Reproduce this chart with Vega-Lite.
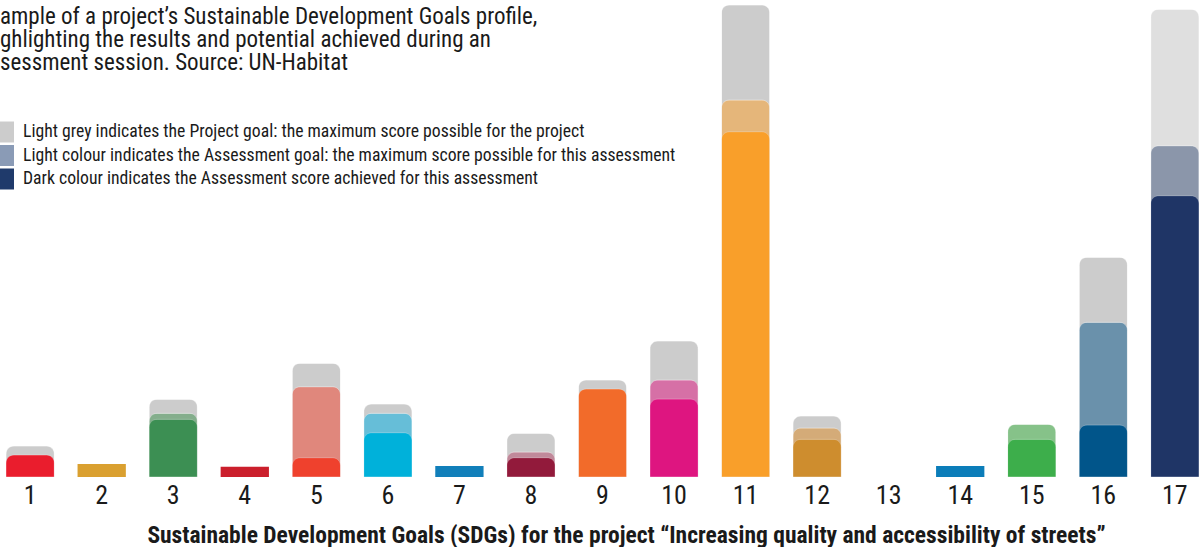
{
  "$schema": "https://vega.github.io/schema/vega-lite/v6.json",
  "width": 1200,
  "height": 477,
  "autosize": "none",
  "padding": {"left": 0, "top": 0, "right": 0, "bottom": 70},
  "background": "white",
  "config": {
    "view": {"stroke": null},
    "font": "Roboto Condensed, Liberation Sans Narrow, Arial Narrow, Roboto, sans-serif"
  },
  "title": {
    "text": ["ample of a project’s Sustainable Development Goals profile,", "ghlighting the results and potential achieved during an", "sessment session. Source: UN-Habitat"],
    "anchor": "start",
    "frame": "group",
    "baseline": "top",
    "offset": 0,
    "dy": 75,
    "fontSize": 23,
    "fontWeight": "normal",
    "lineHeight": 23,
    "color": "#1a1a1a",
    "font": "Roboto Condensed, Liberation Sans Narrow, Arial Narrow, Roboto, sans-serif"
  },
  "data": {
    "values": [
      {"sdg": 1, "project": 31, "assessment": null, "score": 22},
      {"sdg": 2, "project": null, "assessment": null, "score": 13},
      {"sdg": 3, "project": 77.7, "assessment": 63.7, "score": 57.7},
      {"sdg": 4, "project": null, "assessment": null, "score": 10.3},
      {"sdg": 5, "project": 113.7, "assessment": 90.3, "score": 19.3},
      {"sdg": 6, "project": 73, "assessment": 63.7, "score": 44.3},
      {"sdg": 7, "project": null, "assessment": null, "score": 11},
      {"sdg": 8, "project": 43.7, "assessment": 25, "score": 19.3},
      {"sdg": 9, "project": 97, "assessment": null, "score": 88},
      {"sdg": 10, "project": 136, "assessment": 97, "score": 78},
      {"sdg": 11, "project": 472, "assessment": 377, "score": 345.3},
      {"sdg": 12, "project": 61, "assessment": 49, "score": 37.7},
      {"sdg": 13, "project": null, "assessment": null, "score": null},
      {"sdg": 14, "project": null, "assessment": null, "score": 11},
      {"sdg": 15, "project": null, "assessment": 52.7, "score": 37.7},
      {"sdg": 16, "project": 219.7, "assessment": 154.7, "score": 52},
      {"sdg": 17, "project": 467.7, "assessment": 331.3, "score": 281.3}
    ]
  },
  "encoding": {
    "x": {
      "field": "sdg",
      "type": "ordinal",
      "scale": {"domain": [1,2,3,4,5,6,7,8,9,10,11,12,13,14,15,16,17], "range": [0, 1205], "paddingInner": 0.325, "paddingOuter": 0.084},
      "axis": {
        "title": "Sustainable Development Goals (SDGs) for the project “Increasing quality and accessibility of streets”",
        "labelAngle": 0,
        "domain": false,
        "ticks": false,
        "grid": false,
        "labelFontSize": 26,
        "labelPadding": 5,
        "labelColor": "#1a1a1a",
        "labelFont": "Roboto Condensed, Liberation Sans Narrow, Arial Narrow, Roboto, sans-serif",
        "titleFont": "Roboto Condensed, Liberation Sans Narrow, Arial Narrow, Roboto, sans-serif",
        "titleFontWeight": "bold",
        "titleFontSize": 23.5,
        "titleColor": "#1a1a1a",
        "titleX": 626,
        "titleY": 65.5,
        "titleBaseline": "alphabetic",
        "titleLimit": 2000
      }
    }
  },
  "layer": [
    {
      "mark": {"type": "bar", "cornerRadiusEnd": 8, "stroke": "white", "strokeWidth": 1, "strokeOpacity": 0.35},
      "encoding": {
        "y": {"field": "project", "type": "quantitative", "scale": {"domain": [0, 477], "nice": false}, "axis": null},
        "fill": {"field": "sdg", "type": "nominal", "legend": null,
          "scale": {"domain": [1,2,3,4,5,6,7,8,9,10,11,12,13,14,15,16,17], "range": ["#CCCCCC","#CCCCCC","#CCCCCC","#CCCCCC","#CCCCCC","#CCCCCC","#CCCCCC","#CCCCCC","#CCCCCC","#CCCCCC","#CCCCCC","#CCCCCC","#CCCCCC","#CCCCCC","#CCCCCC","#CCCCCC","#DFDFDF"]}}
      }
    },
    {
      "mark": {"type": "bar", "cornerRadiusEnd": 8, "stroke": "white", "strokeWidth": 1, "strokeOpacity": 0.35},
      "encoding": {
        "y": {"field": "assessment", "type": "quantitative", "axis": null},
        "fill": {"field": "sdg", "type": "nominal", "legend": null,
          "scale": {"domain": [1,2,3,4,5,6,7,8,9,10,11,12,13,14,15,16,17], "range": ["#EA1D2D","#DAA030","#84AE8C","#CB1F2C","#E0877C","#66BED8","#117FBA","#C0899A","#F26B2A","#D670A6","#E5B67A","#D4AB78","#999999","#0B7DB9","#86C289","#6A91AB","#8B96AA"]}}
      }
    },
    {
      "transform": [{"filter": "indexof([2, 4, 7, 14], datum.sdg) < 0"}],
      "mark": {"type": "bar", "cornerRadiusEnd": 8, "stroke": "white", "strokeWidth": 1, "strokeOpacity": 0.2},
      "encoding": {
        "y": {"field": "score", "type": "quantitative", "axis": null},
        "fill": {"field": "sdg", "type": "nominal", "legend": null,
          "scale": {"domain": [1,2,3,4,5,6,7,8,9,10,11,12,13,14,15,16,17], "range": ["#EA1D2D","#DAA030","#3C8F53","#CB1F2C","#EF412D","#00B1DA","#117FBA","#921A3B","#F26B2A","#DE1580","#F99F2A","#CE8D2E","#3F7E44","#0B7DB9","#3DAE4B","#01558A","#1F3566"]}}
      }
    },
    {
      "transform": [{"filter": "indexof([2, 4, 7, 14], datum.sdg) >= 0"}],
      "mark": {"type": "bar"},
      "encoding": {
        "y": {"field": "score", "type": "quantitative", "axis": null},
        "fill": {"field": "sdg", "type": "nominal", "legend": null,
          "scale": {"domain": [1,2,3,4,5,6,7,8,9,10,11,12,13,14,15,16,17], "range": ["#EA1D2D","#DAA030","#3C8F53","#CB1F2C","#EF412D","#00B1DA","#117FBA","#921A3B","#F26B2A","#DE1580","#F99F2A","#CE8D2E","#3F7E44","#0B7DB9","#3DAE4B","#01558A","#1F3566"]}}
      }
    },
    {
      "data": {
        "values": [
          {"key": "Light grey indicates the Project goal: the maximum score possible for the project"},
          {"key": "Light colour indicates the Assessment goal: the maximum score possible for this assessment"},
          {"key": "Dark colour indicates the Assessment score achieved for this assessment"}
        ]
      },
      "mark": {"type": "square", "opacity": 0, "filled": true},
      "encoding": {
        "x": {"value": 0},
        "color": {
          "field": "key",
          "type": "nominal",
          "scale": {
            "domain": ["Light grey indicates the Project goal: the maximum score possible for the project", "Light colour indicates the Assessment goal: the maximum score possible for this assessment", "Dark colour indicates the Assessment score achieved for this assessment"],
            "range": ["#CCCCCC", "#8A9BB6", "#1F3A6B"]
          },
          "legend": {
            "title": null,
            "orient": "none",
            "legendX": -7,
            "legendY": 121.5,
            "symbolType": "square",
            "symbolSize": 441,
            "symbolOpacity": 1,
            "symbolStrokeWidth": 0,
            "rowPadding": 2.5,
            "labelOffset": 9,
            "labelFontSize": 17.7,
            "labelLimit": 1000,
            "labelColor": "#1a1a1a",
            "labelFont": "Roboto Condensed, Liberation Sans Narrow, Arial Narrow, Roboto, sans-serif",
            "padding": 0
          }
        }
      }
    }
  ],
  "resolve": {"scale": {"fill": "independent"}}
}
